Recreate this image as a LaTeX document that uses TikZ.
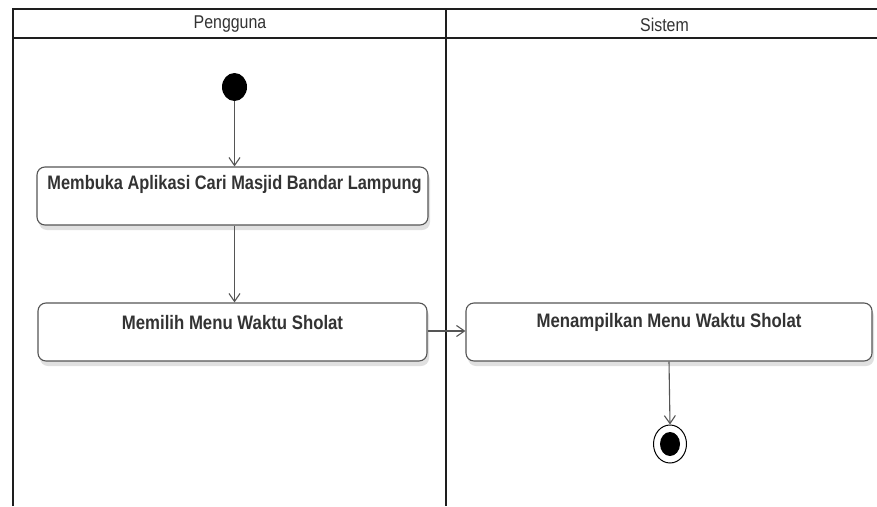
\documentclass[tikz,border=0pt]{standalone}
\usepackage{graphicx}
\usepackage{fontspec}
\setmainfont{Liberation Sans}
\usetikzlibrary{arrows.meta,shapes.geometric,shadows}
\definecolor{frame}{HTML}{1E1E1E}
\definecolor{edge}{HTML}{555555}
\definecolor{ink}{HTML}{333333}
% condensed lettering
\newcommand{\condtext}[2][0.86]{\scalebox{#1}[1]{#2}}
\tikzset{
  lane/.style={draw=frame, line width=2pt},
  lanetitle/.style={font=\fontsize{18.5}{20}\selectfont, text=ink, inner sep=0pt},
  actbox/.style={draw=edge, line width=1.1pt, rounded corners=8pt, fill=white,
    inner sep=0pt, minimum height=58pt,
    drop shadow={shadow xshift=2pt, shadow yshift=-5pt, fill=black!12, opacity=1}},
  acttext/.style={font=\bfseries\fontsize{19.5}{22}\selectfont, text=ink, inner sep=0pt},
  flow/.style={draw=edge, line width=1.1pt, -{Straight Barb[length=8pt,width=11pt,line width=1.1pt]}},
}
\begin{document}
\begin{tikzpicture}[x=1pt,y=-1pt]
\useasboundingbox (0,0) rectangle (877,506);
\fill[white] (0,0) rectangle (877,506);

% swimlanes
\coordinate (tl) at (13,9);
\coordinate (tr) at (877,9);
\coordinate (hl) at (13,38);
\coordinate (hr) at (877,38);
\coordinate (bl) at (13,506);
\coordinate (dt) at (446,9);
\coordinate (db) at (446,506);
\draw[lane] (bl) -- (tl) -- (tr);
\draw[lane] (hl) -- (hr);
\draw[lane] (dt) -- (db);
\node[lanetitle] (lane1) at (230,24.5) {\condtext{Pengguna}};
\node[lanetitle] (lane2) at (664.5,24.5) {\condtext{Sistem}};

% start node
\node[ellipse, fill=black, inner sep=0pt, minimum width=25pt, minimum height=28pt] (start) at (234.5,87) {};

% activities
\node[actbox, minimum width=391pt] (b1) at (232.5,196) {};
\node[acttext] (t1) at ([xshift=2pt,yshift=-18.5pt]b1.north) {\condtext[0.84]{Membuka Aplikasi Cari Masjid Bandar Lampung}};

\node[actbox, minimum width=389pt] (b2) at (232.5,332) {};
\node[acttext] (t2) at ([yshift=-20pt]b2.north) {\condtext{Memilih Menu Waktu Sholat}};

\node[actbox, minimum width=406pt] (b3) at (669,332) {};
\node[acttext] (t3) at ([yshift=-20pt]b3.north) {\condtext{Menampilkan Menu Waktu Sholat}};

% final node
\node[ellipse, draw=black, line width=1pt, fill=white, inner sep=0pt, minimum width=33pt, minimum height=38pt] (final) at (670,444) {};
\node[ellipse, fill=black, inner sep=0pt, minimum width=20pt, minimum height=24pt] (finaldot) at (final.center) {};

% transitions
\draw[flow] (start.south) -- (start.south |- b1.north);
\draw[flow] (start.south |- b1.south) -- (start.south |- b2.north);
\draw[flow] ([yshift=1pt]b2.east) -- ([yshift=1pt]b3.west);
\draw[flow] (b3.south) -- (final.north);
\end{tikzpicture}
\end{document}
